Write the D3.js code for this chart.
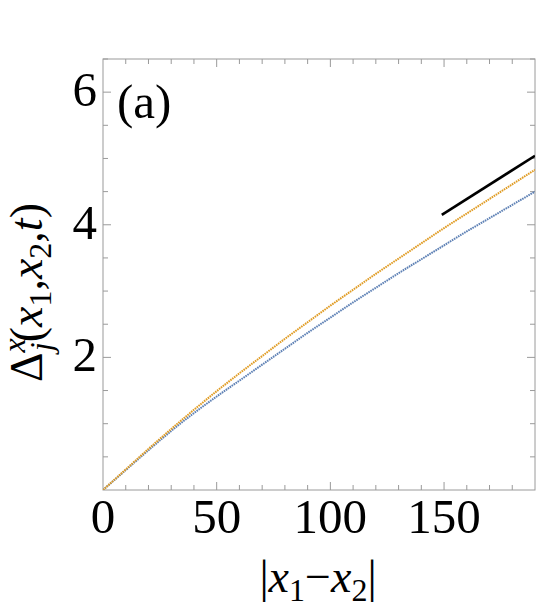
<!DOCTYPE html>
<html>
<head>
<meta charset="utf-8">
<script src="https://cdn.jsdelivr.net/npm/d3@7"></script>
<style>
  body { margin: 0; background: #fff; }
</style>
</head>
<body>
<div id="chart"></div>
<script>
// values
const xs = [0, 10, 20, 30, 40, 50, 60, 70, 80, 90, 100, 110, 120, 130, 140, 150, 160, 170, 180, 190];
const orangeY = [0, 0.31, 0.62, 0.92, 1.21, 1.49, 1.76, 2.02, 2.28, 2.53, 2.78, 3.02, 3.26, 3.49, 3.72, 3.95, 4.17, 4.39, 4.61, 4.83];
const blueY = [0, 0.30, 0.60, 0.89, 1.16, 1.41, 1.65, 1.89, 2.13, 2.37, 2.60, 2.83, 3.05, 3.27, 3.48, 3.69, 3.90, 4.10, 4.30, 4.50];
const refX = [149, 190];
const refY = [4.15, 5.04];
const xTicks = [0, 50, 100, 150];
const yTicks = [2, 4, 6];

const width = 542, height = 611;
const margin = {left: 103, right: 7, top: 59, bottom: 121};
const fontFam = '"Liberation Serif", Tinos, "Times New Roman", Times, "Nimbus Roman", "Nimbus Roman No9 L", FreeSerif, "DejaVu Serif", "Noto Serif", "Noto Serif CJK SC", serif';

const svg = d3.select('#chart').append('svg')
    .attr('width', width)
    .attr('height', height)
    .style('font-family', fontFam);

const x = d3.scaleLinear().domain([0, 190]).range([margin.left, width - margin.right]);
const y = d3.scaleLinear().domain([0, 6.5]).range([height - margin.bottom, margin.top]);

svg.append('clipPath').attr('id', 'clip')
    .append('rect')
    .attr('x', margin.left).attr('y', margin.top)
    .attr('width', x.range()[1] - margin.left)
    .attr('height', y.range()[0] - margin.top);

const frameColor = '#9a9a9a';
const minorX = d3.range(10, 190, 10);
const minorY = d3.range(0.5, 6.6, 0.5);

// ticks on all four sides, pointing inward
function tickLen(v, step) { return Math.abs(v / step - Math.round(v / step)) < 1e-6 ? 8 : 5; }

const ticks = svg.append('g').attr('stroke', frameColor).attr('stroke-width', 1);
minorX.forEach(function(v) {
  const len = tickLen(v, 50);
  ticks.append('line').attr('x1', x(v)).attr('x2', x(v)).attr('y1', y(0)).attr('y2', y(0) - len);
  ticks.append('line').attr('x1', x(v)).attr('x2', x(v)).attr('y1', y(6.5)).attr('y2', y(6.5) + len);
});
minorY.forEach(function(v) {
  const len = tickLen(v, 2);
  ticks.append('line').attr('y1', y(v)).attr('y2', y(v)).attr('x1', x(0)).attr('x2', x(0) + len);
  ticks.append('line').attr('y1', y(v)).attr('y2', y(v)).attr('x1', x(190)).attr('x2', x(190) - len);
});

svg.append('rect')
    .attr('x', x(0)).attr('y', y(6.5))
    .attr('width', x(190) - x(0)).attr('height', y(0) - y(6.5))
    .attr('fill', 'none').attr('stroke', frameColor).attr('stroke-width', 1);

// tick labels
svg.selectAll('.xlab').data(xTicks).enter().append('text')
    .attr('class', 'xlab')
    .attr('x', function(d) { return x(d); })
    .attr('y', 533)
    .attr('text-anchor', 'middle')
    .attr('font-family', fontFam)
    .attr('font-size', 49)
    .text(function(d) { return d; });

svg.selectAll('.ylab').data(yTicks).enter().append('text')
    .attr('class', 'ylab')
    .attr('x', 97)
    .attr('y', function(d) { return y(d) + 14; })
    .attr('text-anchor', 'end')
    .attr('font-family', fontFam)
    .attr('font-size', 49)
    .text(function(d) { return d; });

// curves
const plot = svg.append('g').attr('clip-path', 'url(#clip)');
const line = d3.line()
    .x(function(d) { return x(d[0]); })
    .y(function(d) { return y(d[1]); })
    .curve(d3.curveMonotoneX);

plot.append('path')
    .datum(xs.map(function(v, i) { return [v, blueY[i]]; }))
    .attr('d', line)
    .attr('fill', 'none')
    .attr('stroke', '#5e81b5')
    .attr('stroke-width', 2)
    .attr('stroke-dasharray', '1.6 0.8');

plot.append('path')
    .datum(xs.map(function(v, i) { return [v, orangeY[i]]; }))
    .attr('d', line)
    .attr('fill', 'none')
    .attr('stroke', '#e09c24')
    .attr('stroke-width', 2)
    .attr('stroke-dasharray', '1.6 0.8');

plot.append('path')
    .datum(refX.map(function(v, i) { return [v, refY[i]]; }))
    .attr('d', d3.line().x(function(d) { return x(d[0]); }).y(function(d) { return y(d[1]); }))
    .attr('fill', 'none')
    .attr('stroke', '#000')
    .attr('stroke-width', 2.6);

// panel label
svg.append('text')
    .attr('x', 117).attr('y', 118)
    .attr('font-family', fontFam)
    .attr('font-size', 49)
    .text('(a)');

// x axis label |x1 - x2|
const xl = svg.append('text')
    .attr('x', 318).attr('y', 592)
    .attr('text-anchor', 'middle')
    .attr('font-family', fontFam)
    .attr('font-size', 46);
xl.append('tspan').text('|');
xl.append('tspan').attr('font-style', 'italic').text('x');
xl.append('tspan').attr('font-size', 32).attr('dy', 9).text('1');
xl.append('tspan').attr('dy', -9).text('\u2212');
xl.append('tspan').attr('font-style', 'italic').text('x');
xl.append('tspan').attr('font-size', 32).attr('dy', 9).text('2');
xl.append('tspan').attr('dy', -9).text('|');

// y axis label Δ_j^x(x1,x2,t)
const yl = svg.append('text')
    .attr('transform', 'translate(42,382) rotate(-90)')
    .attr('font-family', fontFam)
    .attr('font-size', 46);
yl.append('tspan').text('\u0394');
yl.append('tspan').attr('font-style', 'italic').attr('font-size', 32).attr('dy', -17).text('x');
yl.append('tspan').attr('font-style', 'italic').attr('font-size', 32).attr('dx', -13).attr('dy', 27).text('j');
yl.append('tspan').attr('dy', -10).text('(');
yl.append('tspan').attr('font-style', 'italic').text('x');
yl.append('tspan').attr('font-size', 32).attr('dy', 9).text('1');
yl.append('tspan').attr('dy', -9).text(',');
yl.append('tspan').attr('font-style', 'italic').text('x');
yl.append('tspan').attr('font-size', 32).attr('dy', 9).text('2');
yl.append('tspan').attr('dy', -9).text(',');
yl.append('tspan').attr('font-style', 'italic').text('t');
yl.append('tspan').text(')');
</script>
</body>
</html>
